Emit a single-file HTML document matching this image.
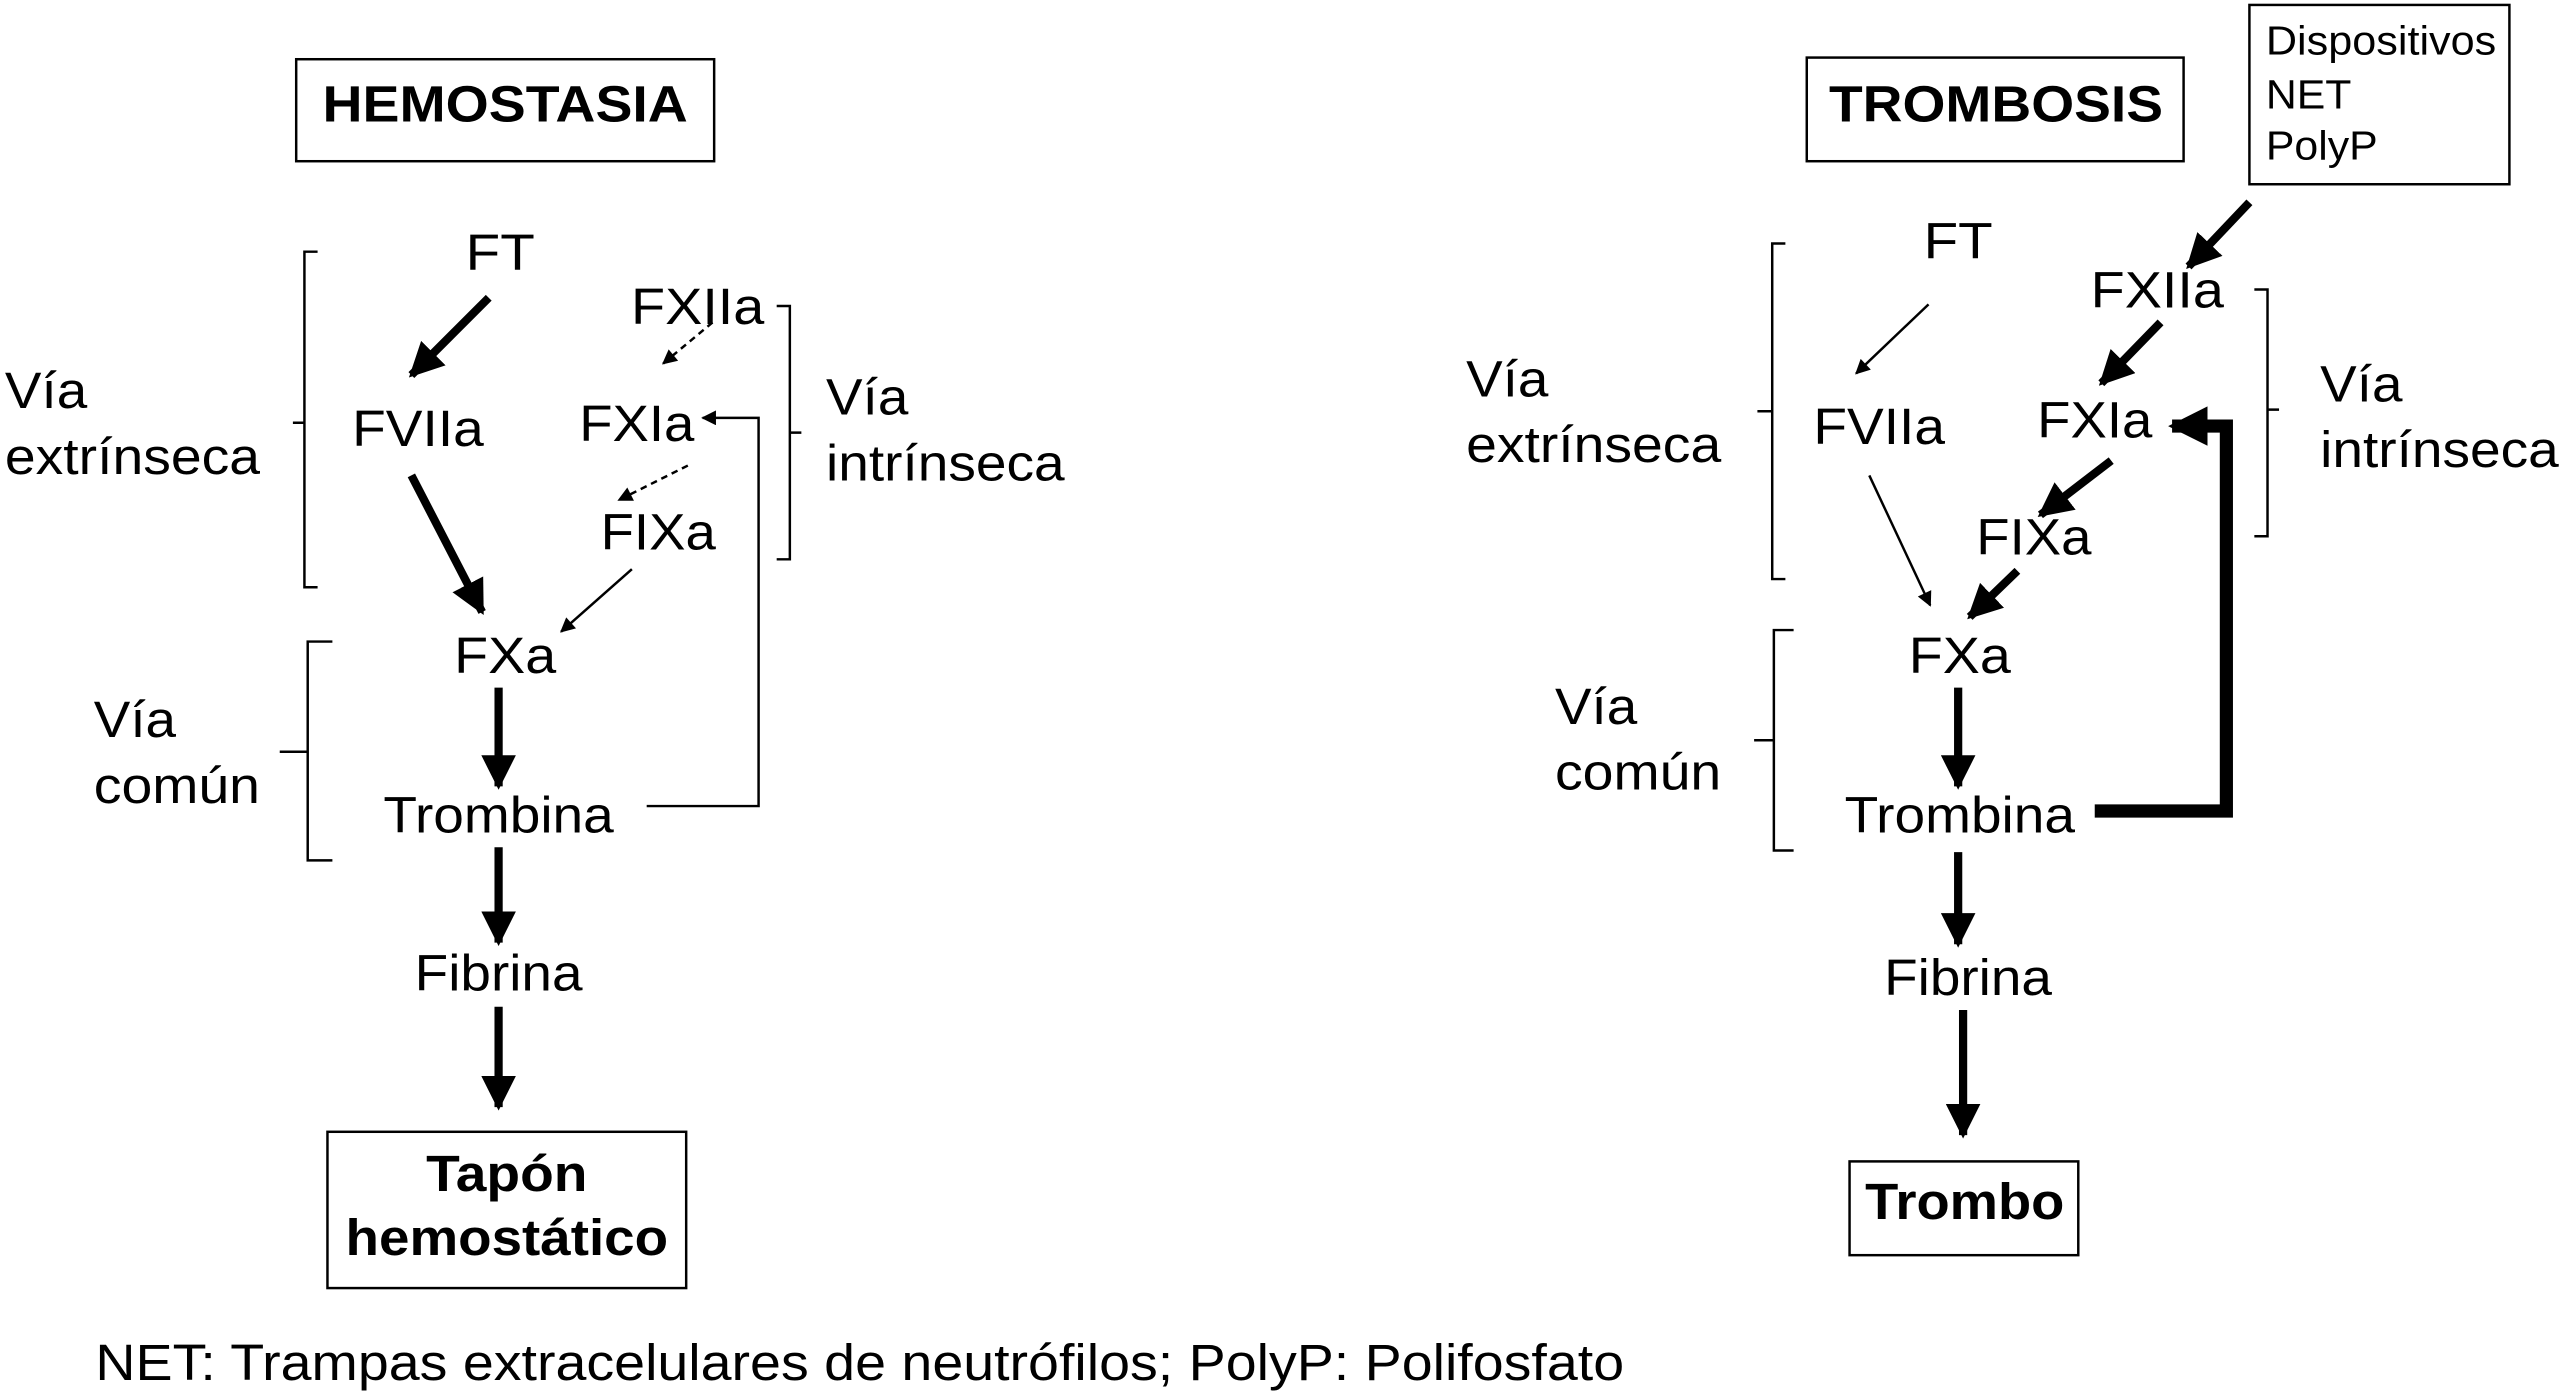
<!DOCTYPE html>
<html><head><meta charset="utf-8"><style>
html,body{margin:0;padding:0;background:#fff;}
svg{display:block;}
text{font-family:"Liberation Sans",Arial,sans-serif;fill:#000;}
</style></head><body>
<svg width="2567" height="1395" viewBox="0 0 1560 848" preserveAspectRatio="none" xmlns="http://www.w3.org/2000/svg">
<defs>
<marker id="th" viewBox="0 0 10 10" refX="9" refY="5" markerWidth="4.2" markerHeight="4.2" orient="auto" markerUnits="strokeWidth"><path d="M0,0 L10,5 L0,10 z" fill="#000"/></marker>
<marker id="tn" viewBox="0 0 10 10" refX="9" refY="5" markerWidth="7" markerHeight="6" orient="auto" markerUnits="strokeWidth"><path d="M0,0 L10,5 L0,10 z" fill="#000"/></marker>
<marker id="tb" viewBox="0 0 10 10" refX="9" refY="5" markerWidth="3" markerHeight="3.2" orient="auto" markerUnits="strokeWidth"><path d="M0,0 L10,5 L0,10 z" fill="#000"/></marker>
</defs>
<g font-size="31">
<!-- LEFT -->
<rect x="180" y="36" width="254" height="62" fill="none" stroke="#000" stroke-width="1.5"/>
<text x="307" y="74" text-anchor="middle" font-weight="bold" textLength="222" lengthAdjust="spacingAndGlyphs">HEMOSTASIA</text>
<text x="304" y="164" text-anchor="middle" textLength="42" lengthAdjust="spacingAndGlyphs">FT</text>
<text x="254" y="271" text-anchor="middle" textLength="80" lengthAdjust="spacingAndGlyphs">FVIIa</text>
<text x="424" y="197" text-anchor="middle" textLength="81" lengthAdjust="spacingAndGlyphs">FXIIa</text>
<text x="387" y="268" text-anchor="middle" textLength="70" lengthAdjust="spacingAndGlyphs">FXIa</text>
<text x="400" y="334" text-anchor="middle" textLength="70" lengthAdjust="spacingAndGlyphs">FIXa</text>
<text x="307" y="409" text-anchor="middle" textLength="62" lengthAdjust="spacingAndGlyphs">FXa</text>
<text x="303" y="506" text-anchor="middle" textLength="140" lengthAdjust="spacingAndGlyphs">Trombina</text>
<text x="303" y="602" text-anchor="middle" textLength="102" lengthAdjust="spacingAndGlyphs">Fibrina</text>
<text x="3" y="248" textLength="50" lengthAdjust="spacingAndGlyphs">Vía</text>
<text x="3" y="288" textLength="155" lengthAdjust="spacingAndGlyphs">extrínseca</text>
<text x="502" y="252" textLength="50" lengthAdjust="spacingAndGlyphs">Vía</text>
<text x="502" y="292" textLength="145" lengthAdjust="spacingAndGlyphs">intrínseca</text>
<text x="57" y="448" textLength="50" lengthAdjust="spacingAndGlyphs">Vía</text>
<text x="57" y="488" textLength="101" lengthAdjust="spacingAndGlyphs">común</text>
<path d="M193,153 H185 V357 H193 M185,257 H178" fill="none" stroke="#000" stroke-width="1.5"/>
<path d="M472,186 H480 V340 H472 M480,263 H487" fill="none" stroke="#000" stroke-width="1.5"/>
<path d="M202,390 H187 V523 H202 M187,457 H170" fill="none" stroke="#000" stroke-width="1.5"/>
<g stroke="#000" fill="none">
<line x1="297" y1="181" x2="250" y2="228" stroke-width="5" marker-end="url(#th)"/>
<line x1="250" y1="289" x2="293" y2="372" stroke-width="5" marker-end="url(#th)"/>
<line x1="433" y1="196" x2="403" y2="221" stroke-width="1.5" stroke-dasharray="4,3" marker-end="url(#tn)"/>
<line x1="418" y1="283" x2="376" y2="304" stroke-width="1.5" stroke-dasharray="4,3" marker-end="url(#tn)"/>
<line x1="384" y1="346" x2="341" y2="384" stroke-width="1.5" marker-end="url(#tn)"/>
<path d="M393,490 H461 V254 H427" stroke-width="1.5" marker-end="url(#tn)"/>
<line x1="303" y1="418" x2="303" y2="478" stroke-width="5" marker-end="url(#th)"/>
<line x1="303" y1="515" x2="303" y2="573" stroke-width="5" marker-end="url(#th)"/>
<line x1="303" y1="612" x2="303" y2="673" stroke-width="5" marker-end="url(#th)"/>
</g>
<rect x="199" y="688" width="218" height="95" fill="none" stroke="#000" stroke-width="1.5"/>
<text x="308" y="724" text-anchor="middle" font-weight="bold" textLength="98" lengthAdjust="spacingAndGlyphs">Tapón</text>
<text x="308" y="763" text-anchor="middle" font-weight="bold" textLength="196" lengthAdjust="spacingAndGlyphs">hemostático</text>
<text x="58" y="839" textLength="929" lengthAdjust="spacingAndGlyphs">NET: Trampas extracelulares de neutrófilos; PolyP: Polifosfato</text>

<!-- RIGHT -->
<rect x="1098" y="35" width="229" height="63" fill="none" stroke="#000" stroke-width="1.5"/>
<text x="1213" y="74" text-anchor="middle" font-weight="bold" textLength="203" lengthAdjust="spacingAndGlyphs">TROMBOSIS</text>
<rect x="1367" y="3" width="158" height="109" fill="none" stroke="#000" stroke-width="1.5"/>
<g font-size="25">
<text x="1377" y="33" textLength="140" lengthAdjust="spacingAndGlyphs">Dispositivos</text>
<text x="1377" y="66" textLength="52" lengthAdjust="spacingAndGlyphs">NET</text>
<text x="1377" y="97" textLength="68" lengthAdjust="spacingAndGlyphs">PolyP</text>
</g>
<text x="1190" y="157" text-anchor="middle" textLength="42" lengthAdjust="spacingAndGlyphs">FT</text>
<text x="1311" y="187" text-anchor="middle" textLength="81" lengthAdjust="spacingAndGlyphs">FXIIa</text>
<text x="1142" y="270" text-anchor="middle" textLength="80" lengthAdjust="spacingAndGlyphs">FVIIa</text>
<text x="1273" y="266" text-anchor="middle" textLength="70" lengthAdjust="spacingAndGlyphs">FXIa</text>
<text x="1236" y="337" text-anchor="middle" textLength="70" lengthAdjust="spacingAndGlyphs">FIXa</text>
<text x="1191" y="409" text-anchor="middle" textLength="62" lengthAdjust="spacingAndGlyphs">FXa</text>
<text x="1191" y="506" text-anchor="middle" textLength="140" lengthAdjust="spacingAndGlyphs">Trombina</text>
<text x="1196" y="605" text-anchor="middle" textLength="102" lengthAdjust="spacingAndGlyphs">Fibrina</text>
<text x="891" y="241" textLength="50" lengthAdjust="spacingAndGlyphs">Vía</text>
<text x="891" y="281" textLength="155" lengthAdjust="spacingAndGlyphs">extrínseca</text>
<text x="1410" y="244" textLength="50" lengthAdjust="spacingAndGlyphs">Vía</text>
<text x="1410" y="284" textLength="145" lengthAdjust="spacingAndGlyphs">intrínseca</text>
<text x="945" y="440" textLength="50" lengthAdjust="spacingAndGlyphs">Vía</text>
<text x="945" y="480" textLength="101" lengthAdjust="spacingAndGlyphs">común</text>
<path d="M1085,148 H1077 V352 H1085 M1077,250 H1068" fill="none" stroke="#000" stroke-width="1.5"/>
<path d="M1370,176 H1378 V326 H1370 M1378,249 H1385" fill="none" stroke="#000" stroke-width="1.5"/>
<path d="M1090,383 H1078 V517 H1090 M1078,450 H1066" fill="none" stroke="#000" stroke-width="1.5"/>
<g stroke="#000" fill="none">
<line x1="1367" y1="123" x2="1330" y2="162" stroke-width="5" marker-end="url(#th)"/>
<line x1="1172" y1="185" x2="1128" y2="227" stroke-width="1.5" marker-end="url(#tn)"/>
<line x1="1313" y1="196" x2="1277" y2="233" stroke-width="5" marker-end="url(#th)"/>
<line x1="1283" y1="280" x2="1240" y2="313" stroke-width="5" marker-end="url(#th)"/>
<line x1="1226" y1="347" x2="1197" y2="375" stroke-width="5" marker-end="url(#th)"/>
<line x1="1136" y1="289" x2="1173" y2="368" stroke-width="1.5" marker-end="url(#tn)"/>
<path d="M1273,493 H1353 V259 H1320" stroke-width="8" marker-end="url(#tb)"/>
<line x1="1190" y1="418" x2="1190" y2="478" stroke-width="5" marker-end="url(#th)"/>
<line x1="1190" y1="518" x2="1190" y2="574" stroke-width="5" marker-end="url(#th)"/>
<line x1="1193" y1="614" x2="1193" y2="690" stroke-width="5" marker-end="url(#th)"/>
</g>
<rect x="1124" y="706" width="139" height="57" fill="none" stroke="#000" stroke-width="1.5"/>
<text x="1194" y="741" text-anchor="middle" font-weight="bold" textLength="121" lengthAdjust="spacingAndGlyphs">Trombo</text>
</g>
</svg>
</body></html>
